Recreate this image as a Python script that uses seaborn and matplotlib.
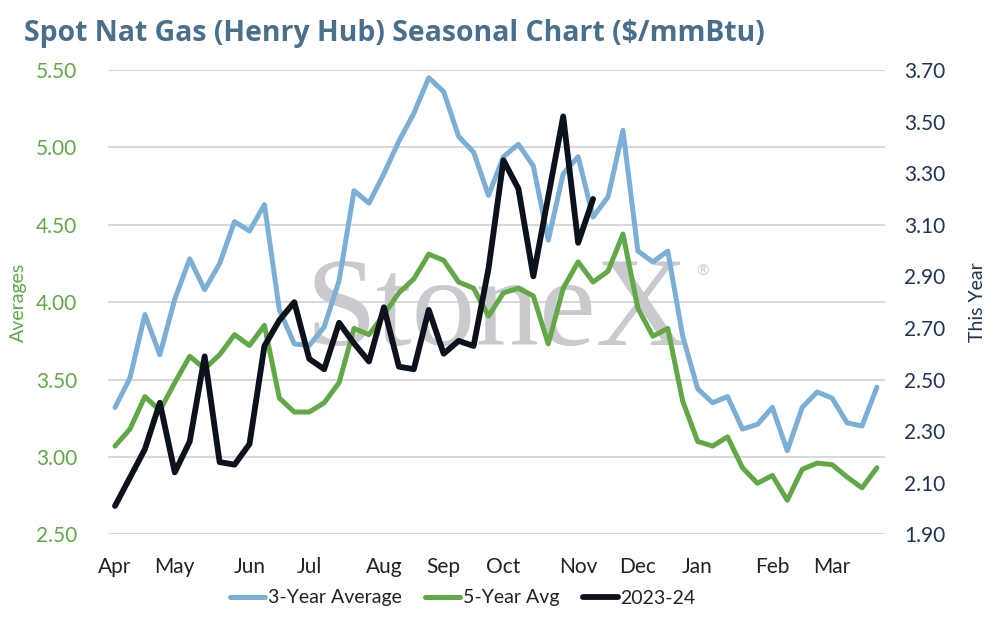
import numpy as np
import pandas as pd
import matplotlib
matplotlib.use("Agg")
import matplotlib.pyplot as plt
import seaborn as sns

# ---- data ----
three_year = [3.32, 3.51, 3.92, 3.66, 4.02, 4.28, 4.08, 4.25, 4.52, 4.46,
              4.63, 3.95, 3.73, 3.72, 3.84, 4.14, 4.72, 4.64, 4.83, 5.04,
              5.22, 5.45, 5.36, 5.07, 4.97, 4.69, 4.94, 5.02, 4.88, 4.40,
              4.83, 4.94, 4.55, 4.68, 5.11, 4.33, 4.26, 4.33, 3.78, 3.44,
              3.35, 3.39, 3.18, 3.21, 3.32, 3.04, 3.32, 3.42, 3.38, 3.22,
              3.20, 3.45]
five_year = [3.07, 3.18, 3.39, 3.30, 3.48, 3.65, 3.57, 3.66, 3.79, 3.72,
             3.85, 3.38, 3.29, 3.29, 3.35, 3.48, 3.83, 3.79, 3.92, 4.06,
             4.15, 4.31, 4.27, 4.13, 4.09, 3.91, 4.06, 4.09, 4.04, 3.73,
             4.09, 4.26, 4.13, 4.20, 4.44, 3.96, 3.78, 3.83, 3.36, 3.10,
             3.07, 3.13, 2.93, 2.83, 2.88, 2.72, 2.92, 2.96, 2.95, 2.87,
             2.80, 2.93]
this_year = [2.01, 2.12, 2.23, 2.41, 2.14, 2.26, 2.59, 2.18, 2.17, 2.25,
             2.63, 2.73, 2.80, 2.58, 2.54, 2.72, 2.64, 2.57, 2.78, 2.55,
             2.54, 2.77, 2.60, 2.65, 2.63, 2.93, 3.35, 3.24, 2.90, 3.21,
             3.52, 3.03, 3.20]
month_labels = ["Apr", "May", "Jun", "Jul", "Aug", "Sep", "Oct", "Nov",
                "Dec", "Jan", "Feb", "Mar"]
month_weeks = [0, 4, 9, 13, 18, 22, 26, 31, 35, 39, 44, 48]

BLUE = "#7bafd6"
GREEN = "#62a846"
BLACK = "#0b121c"
TITLE = "#4a6f8a"
NAVY = "#1f3552"

sns.set_theme(style="white")
plt.rcParams["font.family"] = ["Lato", "DejaVu Sans"]

df_avg = pd.DataFrame({"week": np.arange(len(three_year)),
                       "three": three_year, "five": five_year})
df_now = pd.DataFrame({"week": np.arange(len(this_year)), "now": this_year})

fig = plt.figure(figsize=(9.93, 6.17), dpi=100)
ax = fig.add_axes([108/993, 1-534.3/617, (885-108)/993, (534.3-70)/617])
ax2 = ax.twinx()

sns.lineplot(data=df_avg, x="week", y="three", ax=ax, color=BLUE, lw=3.6,
             label="3-Year Average", legend=False, zorder=3)
sns.lineplot(data=df_avg, x="week", y="five", ax=ax, color=GREEN, lw=3.6,
             label="5-Year Avg", legend=False, zorder=3)
sns.lineplot(data=df_now, x="week", y="now", ax=ax2, color=BLACK, lw=4.2,
             label="2023-24", legend=False, zorder=3)

ax.set_xlim(-0.47, 51.54)
ax.set_ylim(2.5, 5.5)
ax2.set_ylim(1.9, 3.7)
ax.set_yticks(np.arange(2.5, 5.51, 0.5))
ax2.set_yticks(np.arange(1.9, 3.71, 0.2))
ax.set_yticklabels([f"{v:.2f}" for v in np.arange(2.5, 5.51, 0.5)])
ax2.set_yticklabels([f"{v:.2f}" for v in np.arange(1.9, 3.71, 0.2)])
ax.set_xticks(month_weeks)
ax.set_xticklabels(month_labels)

ax.grid(axis="y", color="#d9d9d9", lw=1.5)
ax.grid(axis="x", visible=False)
ax2.grid(False)
for a in (ax, ax2):
    for s in a.spines.values():
        s.set_visible(False)
ax.set_axisbelow(True)

ax.tick_params(axis="y", colors=GREEN, labelsize=15, length=0, pad=22)
ax2.tick_params(axis="y", colors=NAVY, labelsize=15, length=0, pad=14)
ax.tick_params(axis="x", colors="#222222", labelsize=15, length=0, pad=16)

ax.set_xlabel("")
ax.set_ylabel("Averages", color=GREEN, fontsize=14)
ax2.set_ylabel("This Year", color=NAVY, fontsize=14)
ax.yaxis.set_label_coords((27 - 108) / 777, 0.5)
ax2.yaxis.set_label_coords((969 - 108) / 777, 0.5)

# watermark (behind the lines)
ax.text(0.500, 0.408, "StoneX", transform=ax.transAxes, fontsize=92,
        family="Liberation Serif", color="#c9cacd", ha="center",
        va="baseline", zorder=1)
ax.text(0.765, 0.565, "®", transform=ax.transAxes, fontsize=11,
        color="#c9cacd", ha="center", va="center", zorder=1)

fig.text(24/993, 1-33/617, "Spot Nat Gas (Henry Hub) Seasonal Chart ($/mmBtu)",
         fontsize=20.4, fontweight="bold", color=TITLE, ha="left", va="center",
         family=["Open Sans", "DejaVu Sans"])

h1, l1 = ax.get_legend_handles_labels()
h2, l2 = ax2.get_legend_handles_labels()
leg = fig.legend(h1 + h2, l1 + l2, loc="center", bbox_to_anchor=(0.466, 1-598/617),
                 ncol=3, frameon=False, fontsize=14, handlelength=1.8,
                 handletextpad=0.15, columnspacing=1.2)
for t in leg.get_texts():
    t.set_color("#222222")

fig.savefig("out.png", dpi=100)
